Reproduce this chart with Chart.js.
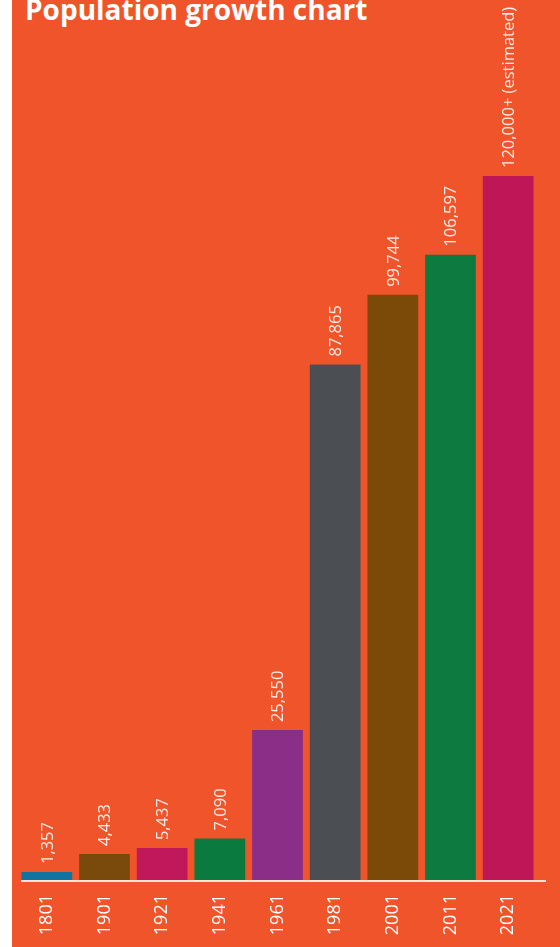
<!DOCTYPE html>
<html>
<head>
<meta charset="utf-8">
<script src="https://cdn.jsdelivr.net/npm/chart.js@4"></script>
<style>
  html, body { margin: 0; padding: 0; background: #fff; }
  #wrap {
    position: absolute; left: 12px; top: 0;
    width: 548px; height: 947px;
    background: #f0542a; overflow: hidden;
  }
  #title {
    position: absolute; left: 13px; top: -5px; margin: 0;
    font: bold 28px/28px "Open Sans", sans-serif; color: #fff;
    white-space: nowrap;
  }
  canvas { position: absolute; left: 0; top: 0; }
</style>
</head>
<body>
<div id="wrap">
  <h1 id="title">Population growth chart</h1>
  <canvas id="popChart" width="548" height="947"></canvas>
</div>
<script>
const years = ['1801', '1901', '1921', '1941', '1961', '1981', '2001', '2011', '2021'];
const population = [1357, 4433, 5437, 7090, 25550, 87865, 99744, 106597, 120000];
const valueLabels = ['1,357', '4,433', '5,437', '7,090', '25,550', '87,865', '99,744', '106,597', '120,000+ (estimated)'];
const barColors = ['#11739f', '#7a4a0c', '#c0185a', '#0b7a3e', '#8a2e88', '#4b4f53', '#7b4a08', '#0d7a3f', '#be1656'];

// value text above each bar, rotated, plus the white base line
const barText = {
    id: 'barText',
    afterDatasetsDraw(chart) {
        const ctx = chart.ctx;
        const area = chart.chartArea;
        ctx.save();
        ctx.strokeStyle = 'rgba(255, 235, 225, 0.95)';
        ctx.lineWidth = 2;
        ctx.beginPath();
        ctx.moveTo(area.left + 3, area.bottom + 1);
        ctx.lineTo(area.right + 9, area.bottom + 1);
        ctx.stroke();

        ctx.fillStyle = 'rgba(255, 255, 255, 0.88)';
        ctx.font = '16.5px "Open Sans", sans-serif';
        ctx.textAlign = 'left';
        ctx.textBaseline = 'middle';
        chart.getDatasetMeta(0).data.forEach((bar, i) => {
            ctx.save();
            ctx.translate(bar.x + 1, bar.y - 8);
            ctx.rotate(-Math.PI / 2);
            ctx.fillText(valueLabels[i], 0, 0);
            ctx.restore();
        });
        ctx.restore();
    }
};

new Chart(document.getElementById('popChart'), {
    type: 'bar',
    data: {
        labels: years,
        datasets: [{
            data: population,
            backgroundColor: barColors,
            borderWidth: 0,
            barPercentage: 0.88,
            categoryPercentage: 1
        }]
    },
    options: {
        responsive: false,
        animation: false,
        layout: { padding: { left: 6, right: 23, top: 0, bottom: 0 } },
        plugins: {
            legend: { display: false },
            tooltip: { enabled: false }
        },
        scales: {
            x: {
                grid: { display: false, drawTicks: false },
                border: { display: false },
                afterFit: s => { s.height = 67; },
                ticks: {
                    color: '#fff',
                    font: { family: '"Open Sans", sans-serif', size: 18 },
                    minRotation: 90,
                    maxRotation: 90,
                    padding: 14
                }
            },
            y: {
                display: false,
                min: 0,
                max: 150000
            }
        }
    },
    plugins: [barText]
});
</script>
</body>
</html>
